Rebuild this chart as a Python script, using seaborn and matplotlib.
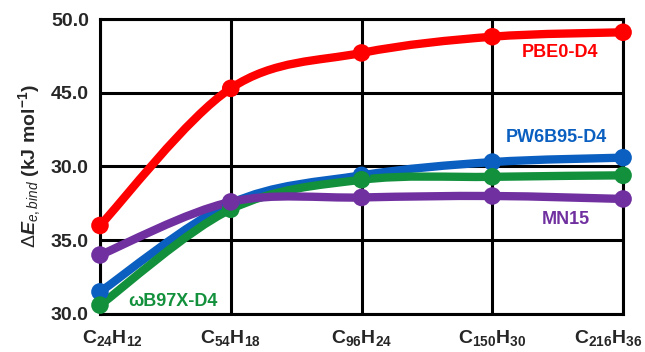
import numpy as np
import matplotlib
matplotlib.use('Agg')
import matplotlib.pyplot as plt
import matplotlib.transforms as mtransforms
import seaborn as sns
from matplotlib.path import Path
from matplotlib.patches import PathPatch

# data
systems = [r'$\mathbf{C_{24}H_{12}}$', r'$\mathbf{C_{54}H_{18}}$', r'$\mathbf{C_{96}H_{24}}$',
           r'$\mathbf{C_{150}H_{30}}$', r'$\mathbf{C_{216}H_{36}}$']
pbe0 = [36.0, 45.3, 47.7, 48.8, 49.1]
pw6b95 = [31.5, 37.5, 39.4, 40.3, 40.6]
wb97x = [30.6, 37.1, 39.1, 39.3, 39.4]
mn15 = [34.0, 37.6, 37.9, 38.0, 37.8]
tick_vals = [30, 35, 40, 45, 50]
tick_labels = ['30.0', '35.0', '30.0', '45.0', '50.0']

series = [
    ('PBE0-D4', pbe0, '#FF0000', (3.52, 47.7)),
    ('PW6B95-D4', pw6b95, '#0A5FC0', (3.49, 41.95)),
    ('ωB97X-D4', wb97x, '#12903C', (0.56, 30.85)),
    ('MN15', mn15, '#7030A0', (3.56, 36.4)),
]

sns.set_style('white')
plt.rcParams['font.family'] = ['Liberation Sans', 'DejaVu Sans']
plt.rcParams['mathtext.fontset'] = 'custom'
plt.rcParams['mathtext.rm'] = 'Liberation Sans'
plt.rcParams['mathtext.bf'] = 'Liberation Sans:bold'
plt.rcParams['mathtext.it'] = 'Liberation Sans:italic'
plt.rcParams['mathtext.bfit'] = 'Liberation Sans:bold:italic'


def smooth_path(xs, ys):
    # Catmull-Rom style bezier through the points (like a smoothed Excel line)
    pts = np.column_stack([xs, ys]).astype(float)
    ext = np.vstack([pts[0], pts, pts[-1]])
    verts = [pts[0]]
    codes = [Path.MOVETO]
    for i in range(len(pts) - 1):
        p0, p1, p2, p3 = ext[i], ext[i + 1], ext[i + 2], ext[i + 3]
        verts += [p1 + (p2 - p0) / 6, p2 - (p3 - p1) / 6, p2]
        codes += [Path.CURVE4] * 3
    return Path(verts, codes)


fig = plt.figure(figsize=(6.45, 3.52), dpi=100)
ax = fig.add_axes([0.155, 0.108, 0.811, 0.838])
x = np.arange(len(systems))

for name, vals, color, pos in series:
    patch = PathPatch(smooth_path(x, vals), facecolor='none', edgecolor=color,
                      lw=6, capstyle='round', joinstyle='round', zorder=3, clip_on=False)
    ax.add_patch(patch)
    sns.scatterplot(x=x, y=vals, color=color, s=160, edgecolor='none',
                    zorder=4, clip_on=False, ax=ax, legend=False)
    ax.text(pos[0], pos[1], name, color=color, fontsize=13, fontweight='bold',
            ha='center', va='center')

ax.set_xlim(0, 4)
ax.set_ylim(30, 50)
ax.set_xticks(x)
ax.set_xticklabels(systems, fontsize=14)
ax.set_yticks(tick_vals)
ax.set_yticklabels(tick_labels, fontsize=14, fontweight='bold')
ax.tick_params(length=0, pad=8)
ax.tick_params(axis='x', pad=10)
# first / last category labels sit a bit inward in the reference
xl = ax.get_xticklabels()
xl[0].set_transform(xl[0].get_transform() + mtransforms.ScaledTranslation(0.12, 0, fig.dpi_scale_trans))
xl[-1].set_transform(xl[-1].get_transform() + mtransforms.ScaledTranslation(-0.15, 0, fig.dpi_scale_trans))
ax.grid(True, color='black', lw=2.2)
for s in ax.spines.values():
    s.set_color('black')
    s.set_linewidth(2.2)
ax.set_axisbelow(True)
ax.set_ylabel(r'$\Delta\mathbfit{E}_{\mathit{e,bind}}$ (kJ mol$^{\mathbf{-1}}$)',
              fontsize=14, fontweight='bold', labelpad=6)

fig.savefig('out.png', dpi=100)
